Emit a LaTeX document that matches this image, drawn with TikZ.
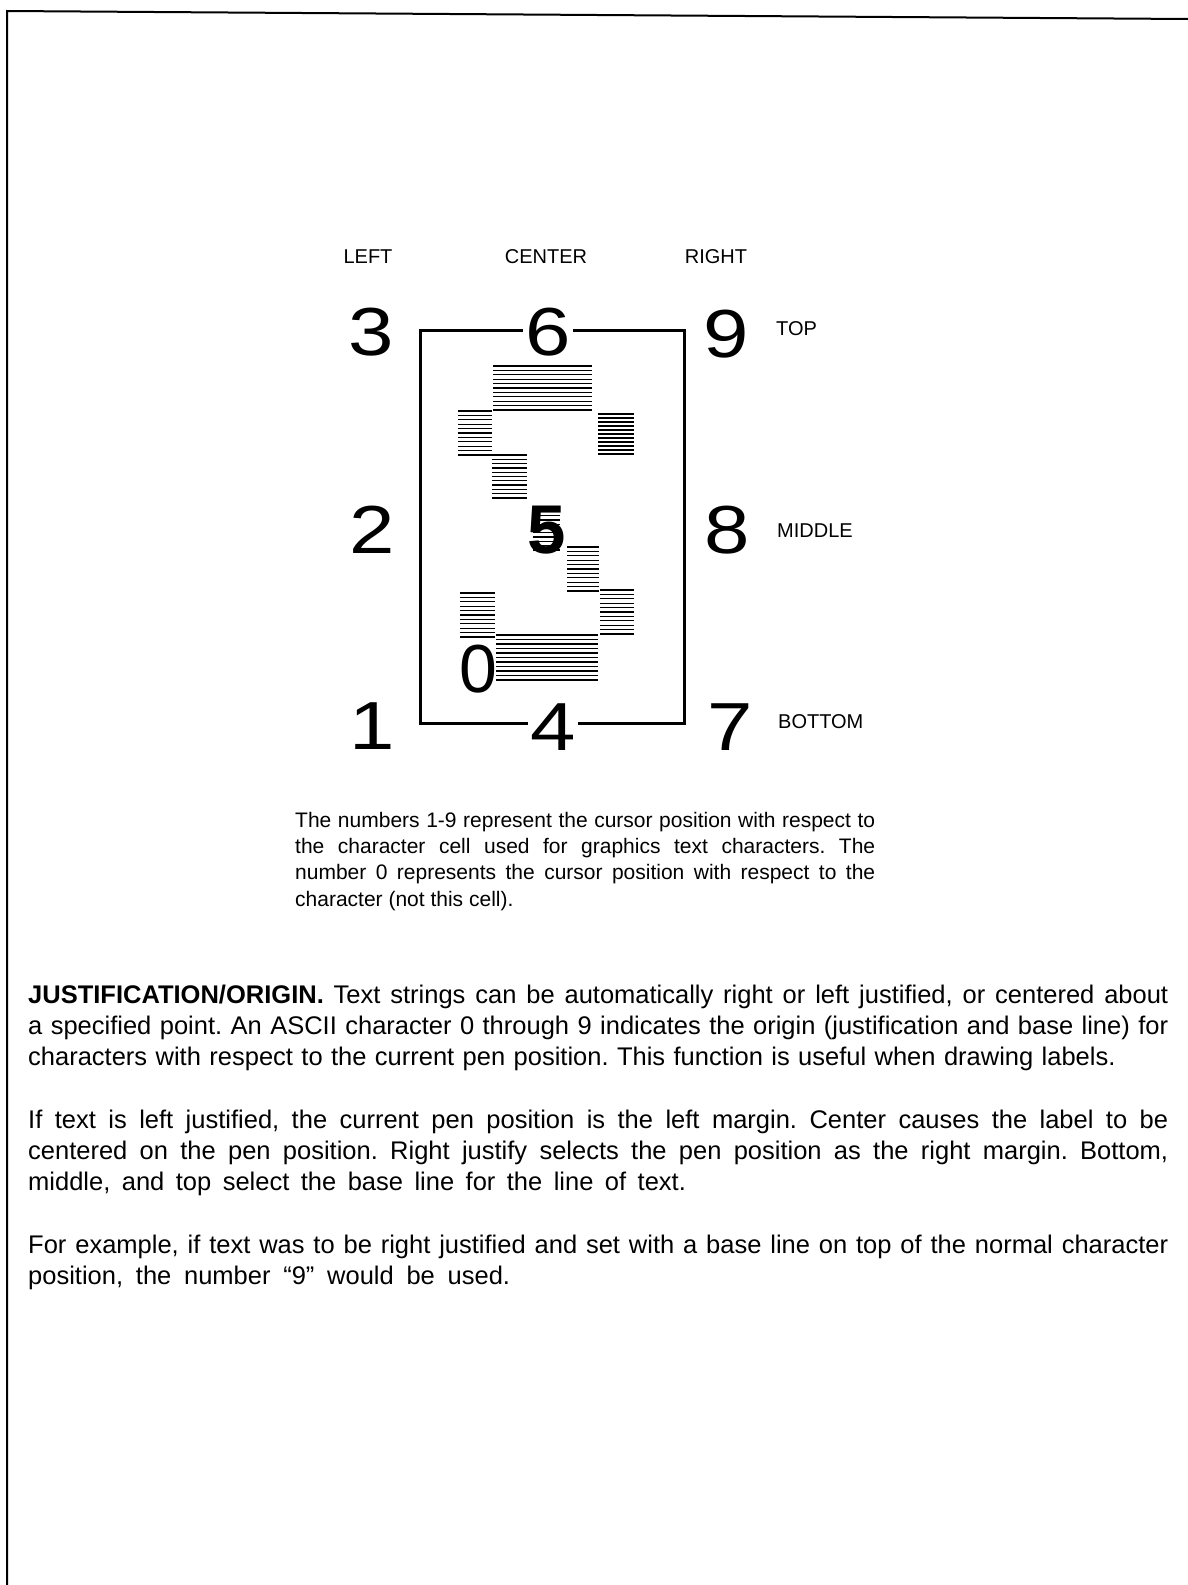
\documentclass[tikz,border=0pt]{standalone}
\usepackage{fontspec}
\setmainfont{Liberation Sans}
\newfontfamily\digitfont[FakeStretch=1.2]{Liberation Sans}
\begin{document}
\frenchspacing
\begin{tikzpicture}[x=1pt,y=-1pt,
  frame/.style={line width=2pt},
  cellbox/.style={line width=3pt},
  digit/.style={font=\digitfont\fontsize{68}{68}\selectfont, inner sep=0pt, anchor=base},
  cutdigit/.style={digit, fill=white, inner xsep=2pt},
  plaindigit/.style={font=\fontsize{68}{68}\selectfont, inner sep=0pt, anchor=base},
  lbl/.style={font=\fontsize{20}{24}\selectfont, inner sep=0pt, anchor=base},
  rlbl/.style={lbl, anchor=base west},
  hatch/.style={line width=1.25pt},
  caption/.style={font=\fontsize{21}{26.4}\selectfont, inner sep=0pt, anchor=north west, text width=580pt, align=justify},
  para/.style={font=\fontsize{25.5}{31.3}\selectfont, inner sep=0pt, anchor=north west, text width=1140pt, align=justify},
]
\useasboundingbox (0,0) rectangle (1188,1585);
% page frame
\draw[frame] (1188,19) -- (7,11) -- (7,1585);
% character cell
\coordinate (c1) at (420,723);
\coordinate (c3) at (420,330);
\coordinate (c9) at (684,330);
\coordinate (c7) at (684,723);
\draw[cellbox] (c1) -- (c3) -- (c9) -- (c7) -- cycle;
% hatched character pixels
\foreach \xa/\ya/\xb/\yb in {493/366/592/410, 458/411/492/455, 598/414/634/454,
  492/455/527/498, 533/507/560/550, 567/547/599/591, 600/590/634/634,
  460/593/495/637, 496/635/598/680}{
  \foreach \k in {0,...,10}{
    \draw[hatch] (\xa,{\ya+\k*(\yb-\ya)/10}) -- (\xb,{\ya+\k*(\yb-\ya)/10});
  }
}
% position digits
\node[digit] (d3) at (371,355) {3};
\node[cutdigit] (d6) at (548,355) {6};
\node[digit] (d9) at (726,357) {9};
\node[digit] (d2) at (372,553) {2};
\node[digit] (d8) at (727,553) {8};
\node[digit] (d1) at (372,749) {1};
\node[cutdigit] (d4) at (553,750) {4};
\node[digit] (d7) at (730,750) {7};
\node[plaindigit, font=\bfseries\fontsize{69}{69}\selectfont] (d5) at (547,553) {5};
\node[plaindigit] (d0) at (478,692) {0};
% labels
\node[lbl] (left) at (368,263) {LEFT};
\node[lbl] (center) at (546,263) {CENTER};
\node[lbl] (right) at (716,263) {RIGHT};
\node[rlbl] (top) at (776,335) {TOP};
\node[rlbl] (middle) at (777,537) {MIDDLE};
\node[rlbl] (bottom) at (778,728) {BOTTOM};
% caption
\node[caption] (cap) at (295,808.5) {\parindent=0pt\strut The numbers 1-9 represent the cursor position with respect to\linebreak
the character cell used for graphics text characters. The\linebreak
number 0 represents the cursor position with respect to the\linebreak
character (not this cell).};
% body text
\node[para] (body) at (28,981) {\parindent=0pt\strut\textbf{JUSTIFICATION/ORIGIN.} Text strings can be automatically right or left justified, or centered about\linebreak
a specified point. An ASCII character 0 through 9 indicates the origin (justification and base line) for\linebreak
\spaceskip=0.33em\relax characters with respect to the current pen position. This function is useful when drawing labels.\par
\vspace{31.3pt}
\spaceskip=0pt\relax If text is left justified, the current pen position is the left margin. Center causes the label to be\linebreak
centered on the pen position. Right justify selects the pen position as the right margin. Bottom,\linebreak
\spaceskip=0.45em\relax middle, and top select the base line for the line of text.\par
\vspace{31.3pt}
\spaceskip=0pt\relax For example, if text was to be right justified and set with a base line on top of the normal character\linebreak
\spaceskip=0.5em\relax position, the number “9” would be used.};
\end{tikzpicture}
\end{document}
